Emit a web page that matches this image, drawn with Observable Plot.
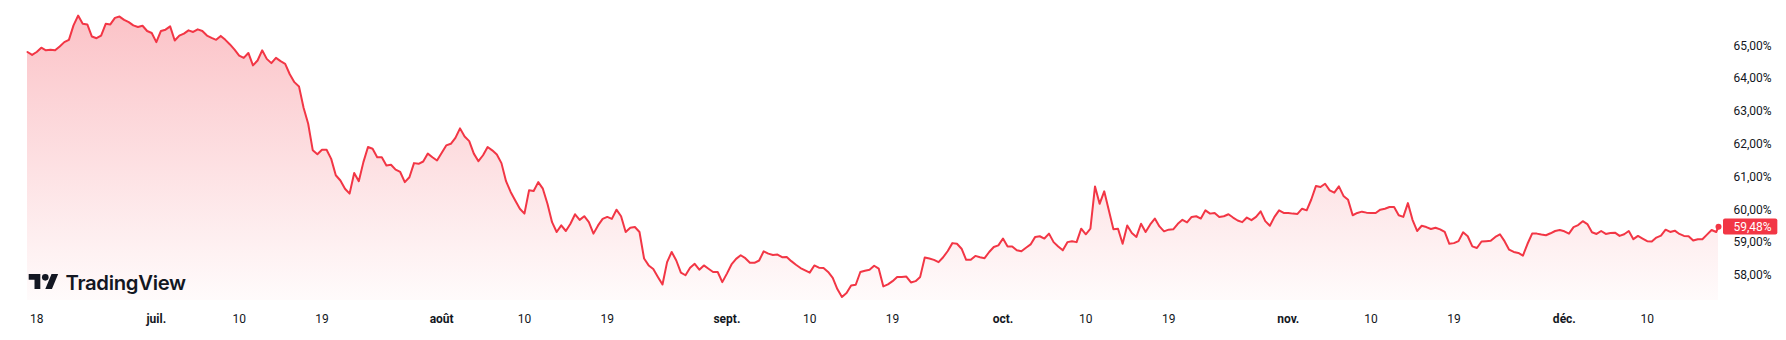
<!DOCTYPE html>
<html>
<head>
<meta charset="utf-8">
<script src="https://cdn.jsdelivr.net/npm/d3@7"></script>
<script src="https://cdn.jsdelivr.net/npm/@observablehq/plot@0.6"></script>
<style>
  html, body { margin: 0; padding: 0; background: #ffffff; }
  #wrap { position: relative; width: 1786px; height: 340px; overflow: hidden; }
  #logo { position: absolute; left: 0; top: 0; pointer-events: none; }
</style>
</head>
<body>
<div id="wrap"></div>
<script>
// ---- data ----
const startDate = "2025-06-17T00:00Z";   // first sample
const stepHours = 12;                     // one reading every 12 hours
const values = [
  64.81, 64.72, 64.81, 64.94, 64.86, 64.88, 64.86, 64.98, 65.11, 65.18,
  65.62, 65.92, 65.67, 65.65, 65.28, 65.23, 65.31, 65.67, 65.65, 65.85,
  65.89, 65.79, 65.72, 65.62, 65.57, 65.61, 65.45, 65.39, 65.11, 65.45,
  65.49, 65.59, 65.16, 65.31, 65.37, 65.47, 65.42, 65.50, 65.45, 65.31,
  65.24, 65.18, 65.30, 65.18, 65.04, 64.88, 64.70, 64.63, 64.78, 64.40,
  64.55, 64.86, 64.60, 64.47, 64.63, 64.53, 64.45, 64.13, 63.89, 63.76,
  63.11, 62.62, 61.81, 61.69, 61.83, 61.83, 61.55, 61.05, 60.89, 60.64,
  60.49, 61.12, 60.87, 61.45,
  61.91, 61.86, 61.60, 61.60, 61.35, 61.37, 61.22, 61.15, 60.84, 60.99,
  61.42, 61.40, 61.47, 61.71, 61.60, 61.50, 61.73, 61.96, 62.01, 62.19,
  62.48, 62.23, 62.09, 61.71, 61.48, 61.66, 61.91, 61.81, 61.68, 61.42,
  60.87, 60.54, 60.28, 60.03, 59.88, 60.59, 60.57, 60.84, 60.64, 60.18,
  59.62, 59.32, 59.52, 59.35, 59.57, 59.86, 59.69, 59.80, 59.62, 59.27,
  59.52, 59.72, 59.78, 59.72, 60.00, 59.80, 59.32, 59.45, 59.47, 59.32,
  58.51, 58.30, 58.19, 57.95, 57.72, 58.40, 58.71, 58.45, 58.08, 58.00,
  58.23, 58.35, 58.17,
  58.30, 58.20, 58.10, 58.10, 57.79, 58.05, 58.33, 58.50, 58.61, 58.52,
  58.38, 58.38, 58.45, 58.73, 58.66, 58.62, 58.63, 58.55, 58.56, 58.43,
  58.32, 58.22, 58.15, 58.08, 58.30, 58.23, 58.22, 58.10, 57.92, 57.58,
  57.34, 57.46, 57.69, 57.71, 58.10, 58.14, 58.17, 58.29, 58.20, 57.66,
  57.72, 57.82, 57.95, 57.95, 57.96, 57.78, 57.82, 57.95, 58.54, 58.51,
  58.47, 58.40, 58.55, 58.74, 58.98, 58.96, 58.81, 58.47, 58.47, 58.59,
  58.55, 58.52, 58.71, 58.86, 58.91, 59.12, 58.88, 58.88, 58.76, 58.73,
  58.84, 58.94, 59.17,
  59.19, 59.12, 59.27, 59.01, 58.88, 58.76, 59.01, 59.04, 59.01, 59.42,
  59.25, 59.42, 60.71, 60.18, 60.56, 59.98, 59.40, 59.42, 58.96, 59.52,
  59.29, 59.17, 59.57, 59.32, 59.55, 59.73, 59.49, 59.34, 59.39, 59.40,
  59.57, 59.69, 59.61, 59.78, 59.80, 59.73, 59.98, 59.88, 59.90, 59.78,
  59.80, 59.86, 59.76, 59.67, 59.62, 59.76, 59.68, 59.78, 59.95, 59.65,
  59.51, 59.78, 59.98, 59.90, 59.90, 59.88, 59.87, 60.03, 59.98, 60.31,
  60.72, 60.69, 60.79, 60.59, 60.52, 60.71, 60.42, 60.30, 59.83, 59.90,
  59.94, 59.91,
  59.90, 59.90, 60.00, 60.03, 60.08, 60.08, 59.83, 59.78, 60.20, 59.69,
  59.35, 59.51, 59.47, 59.41, 59.45, 59.40, 59.32, 58.96, 58.98, 59.04,
  59.31, 59.19, 58.88, 58.83, 59.03, 59.04, 59.05, 59.17, 59.25, 59.04,
  58.78, 58.71, 58.68, 58.60, 58.96, 59.27, 59.27, 59.24, 59.22, 59.28,
  59.35, 59.38, 59.34, 59.27, 59.47, 59.53, 59.65, 59.56, 59.31, 59.26,
  59.35, 59.26, 59.29, 59.30, 59.20, 59.25, 59.35, 59.10, 59.20, 59.12,
  59.04, 59.03, 59.15, 59.21, 59.39, 59.32, 59.36, 59.26, 59.20, 59.19,
  59.06, 59.10, 59.10, 59.24, 59.38, 59.32
];
const lastDate = "2025-12-17T18:00Z";
const lastValue = 59.48;

const yDomain = [57.23, 66.38];
const yTicks = [58, 59, 60, 61, 62, 63, 64, 65];
const dayTicks = ["2025-06-18","2025-07-10","2025-07-19","2025-08-10","2025-08-19","2025-09-10",
                  "2025-09-19","2025-10-10","2025-10-19","2025-11-10","2025-11-19","2025-12-10"];
const dayLabels = ["18","10","19","10","19","10","19","10","19","10","19","10"];
const monthTicks = ["2025-07-01","2025-08-01","2025-09-01","2025-10-01","2025-11-01","2025-12-01"];
const monthLabels = ["juil.","août","sept.","oct.","nov.","déc."];

// ---- build ----
const RED = "#F23645";
const INK = "#131722";
const t0 = +new Date(startDate);
const data = values.map((v, i) => ({date: new Date(t0 + i * stepHours * 3600e3), value: v}));
const last = {date: new Date(lastDate), value: lastValue};
data.push(last);

const dayDates = dayTicks.map(d => new Date(d + "T00:00Z"));
const monthDates = monthTicks.map(d => new Date(d + "T00:00Z"));
const dayMap = new Map(dayDates.map((d, i) => [+d, dayLabels[i]]));
const monthMap = new Map(monthDates.map((d, i) => [+d, monthLabels[i]]));
const pct = v => v.toFixed(2).replace(".", ",") + "%";

const gradient = () => {
  const defs = d3.create("svg:defs");
  const g = defs.append("linearGradient").attr("id", "tvGrad")
    .attr("x1", 0).attr("x2", 0).attr("y1", 0).attr("y2", 1);
  g.append("stop").attr("offset", "0%").attr("stop-color", RED).attr("stop-opacity", 0.3);
  g.append("stop").attr("offset", "100%").attr("stop-color", RED).attr("stop-opacity", 0.02);
  return defs.node();
};

const chart = Plot.plot({
  width: 1786,
  height: 340,
  marginTop: 0,
  marginBottom: 40,
  marginLeft: 27,
  marginRight: 68,
  style: {fontFamily: "Roboto, 'Noto Sans', sans-serif", fontSize: "12px", color: INK, background: "#ffffff"},
  x: {type: "utc", domain: [new Date(startDate), last.date]},
  y: {domain: yDomain},
  marks: [
    gradient,
    Plot.areaY(data, {x: "date", y1: yDomain[0], y2: "value", fill: "url(#tvGrad)"}),
    Plot.lineY(data, {x: "date", y: "value", stroke: RED, strokeWidth: 2, strokeLinejoin: "round"}),
    Plot.dot([last], {x: "date", y: "value", r: 3, fill: RED}),
    Plot.axisY(yTicks, {anchor: "right", tickSize: 0, tickPadding: 15, tickFormat: pct, label: null, fontSize: 12}),
    Plot.axisX(dayDates, {anchor: "bottom", tickSize: 0, tickPadding: 14, tickFormat: d => dayMap.get(+d), label: null, fontSize: 12}),
    Plot.axisX(monthDates, {anchor: "bottom", tickSize: 0, tickPadding: 14, tickFormat: d => monthMap.get(+d), label: null, fontSize: 12, fontWeight: "bold"}),
    Plot.text([last], {x: "date", y: "value", text: d => pct(d.value), dx: 15, textAnchor: "start", fill: "white", fontSize: 12})
  ]
});

const wrap = document.getElementById("wrap");
wrap.appendChild(chart);

// red badge behind the last-value label, sized from the rendered text itself
const matches = Array.from(chart.querySelectorAll("text")).filter(t => t.textContent === pct(lastValue));
const label = matches[matches.length - 1];
if (label) {
  const bb = label.getBBox();
  const cy = bb.y + bb.height / 2;
  const r = document.createElementNS("http://www.w3.org/2000/svg", "rect");
  r.setAttribute("x", bb.x - 10.5);
  r.setAttribute("y", cy - 8);
  r.setAttribute("width", bb.width + 16);
  r.setAttribute("height", 16);
  r.setAttribute("rx", 2);
  r.setAttribute("fill", RED);
  const tf = label.getAttribute("transform");
  if (tf) r.setAttribute("transform", tf);
  label.parentNode.insertBefore(r, label);
}

// TradingView watermark
const logo = d3.create("svg").attr("id", "logo").attr("width", 1786).attr("height", 340);
const icon = logo.append("g").attr("transform", "translate(28.7,270.7) scale(0.83)").attr("fill", INK);
icon.append("path").attr("d", "M14 22H7V11H0V4h14v18zM28 22h-8l7.5-18h8L28 22z");
icon.append("circle").attr("cx", 20).attr("cy", 8).attr("r", 4);
logo.append("text").attr("x", 65.5).attr("y", 289.5).attr("fill", INK)
  .attr("font-family", "Inter, Roboto, sans-serif").attr("font-weight", 600)
  .attr("font-size", 20.3).attr("letter-spacing", -0.3).text("TradingView");
wrap.appendChild(logo.node());
</script>
</body>
</html>
